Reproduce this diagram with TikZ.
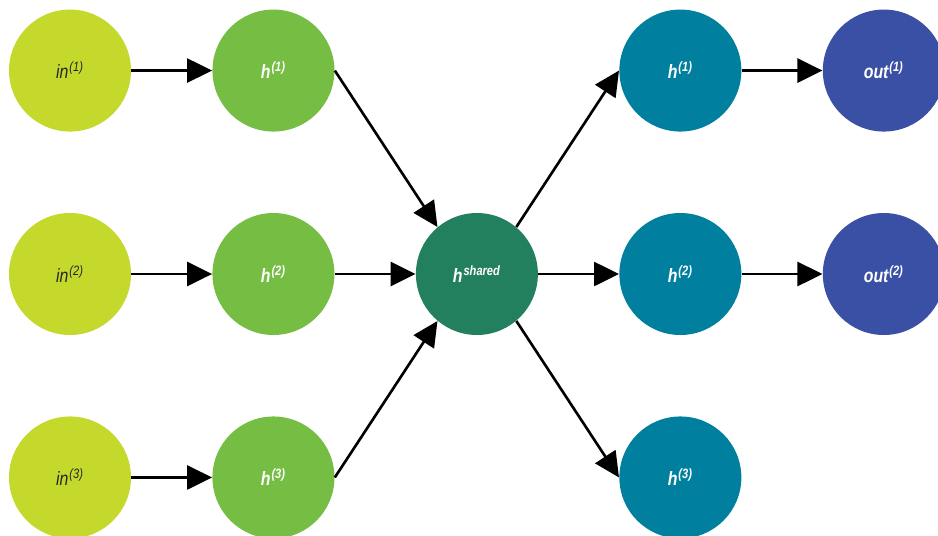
\documentclass[tikz,border=0pt]{standalone}
\usepackage{fontspec}
\setmainfont{Liberation Sans}[FakeStretch=0.82]
\usetikzlibrary{arrows.meta,positioning}
\definecolor{inlime}{HTML}{C5D82C}
\definecolor{hgreen}{HTML}{76BE43}
\definecolor{sharedgreen}{HTML}{23805E}
\definecolor{hteal}{HTML}{00809E}
\definecolor{outblue}{HTML}{3A50A4}
\newcommand{\up}[1]{\textsuperscript{\kern0.5pt#1}}
\tikzset{
  unit/.style={circle,minimum size=24.4mm,inner sep=0pt,font=\itshape\fontsize{11}{13}\selectfont},
  inunit/.style={unit,fill=inlime,text=black!85},
  hidunit/.style={unit,text=white,font=\bfseries\itshape\fontsize{11}{13}\selectfont},
  arrow/.style={-{Triangle[length=5mm,width=4.8mm]},line width=1.5pt}
}

\begin{document}
\begin{tikzpicture}[node distance=16.15mm]
  \useasboundingbox (0,0) rectangle (18.76,-10.7);
  % middle row
  \node[inunit] (in2) at (1.4,-5.48) {in\up{(2)}};
  \node[hidunit,fill=hgreen,right=of in2] (h2) {h\up{(2)}};
  \node[hidunit,fill=sharedgreen,right=of h2] (hs) {h\up{shared}};
  \node[hidunit,fill=hteal,right=of hs] (hr2) {h\up{(2)}};
  \node[hidunit,fill=outblue,right=of hr2] (out2) {out\up{(2)}};
  % top row
  \node[inunit,above=of in2] (in1) {in\up{(1)}};
  \node[hidunit,fill=hgreen,above=of h2] (h1) {h\up{(1)}};
  \node[hidunit,fill=hteal,above=of hr2] (hr1) {h\up{(1)}};
  \node[hidunit,fill=outblue,above=of out2] (out1) {out\up{(1)}};
  % bottom row
  \node[inunit,below=of in2] (in3) {in\up{(3)}};
  \node[hidunit,fill=hgreen,below=of h2] (h3) {h\up{(3)}};
  \node[hidunit,fill=hteal,below=of hr2] (hr3) {h\up{(3)}};
  % connections
  \foreach \i in {1,2,3} {
    \draw[arrow] (in\i) -- (h\i);
  }
  \draw[arrow] (h1.east) -- (hs.130);
  \draw[arrow] (h2) -- (hs);
  \draw[arrow] (h3.east) -- (hs.230);
  \draw[arrow] (hs.50) -- (hr1.west);
  \draw[arrow] (hs) -- (hr2);
  \draw[arrow] (hs.-50) -- (hr3.west);
  \draw[arrow] (hr1) -- (out1);
  \draw[arrow] (hr2) -- (out2);
\end{tikzpicture}
\end{document}
